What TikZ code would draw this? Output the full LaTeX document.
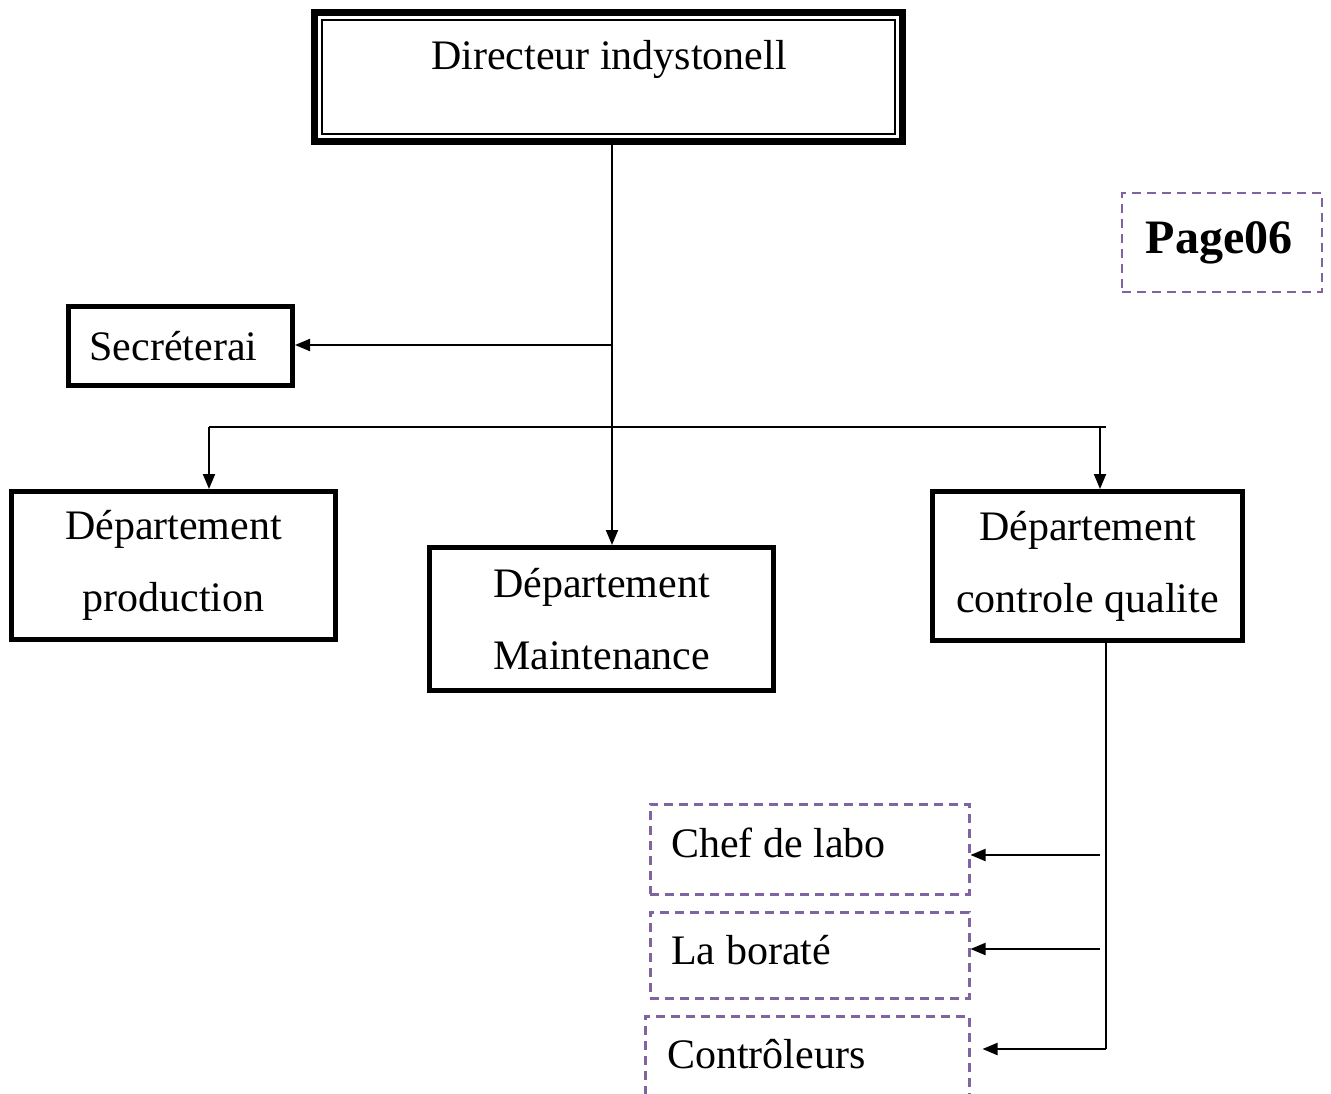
\documentclass[tikz,border=0pt]{standalone}
\usepackage{fontspec}
\setmainfont{Liberation Serif}
\usetikzlibrary{arrows.meta,calc}
\definecolor{dashpurple}{RGB}{128,100,162}
\begin{document}
\begin{tikzpicture}[x=1pt,y=-1pt,
  every node/.style={font=\fontsize{42}{72}\selectfont},
  unitbox/.style={draw, line width=5pt, align=center, inner sep=0pt},
  link/.style={line width=2pt},
  arr/.style={link, -{Triangle[length=15pt,width=12pt]}},
  subbox/.style={draw=dashpurple, line width=2.5pt, dash pattern=on 9pt off 6pt,
                 anchor=north west, inner ysep=0pt, align=flush left},
]
\useasboundingbox (0,0) rectangle (1331,1094);
\clip (0,0) rectangle (1331,1094);

% director: thick frame with a thin inner rule
\node[draw, line width=7pt, minimum width=588pt, minimum height=129pt, inner sep=0pt, outer sep=0pt] (dir) at (608.5,77) {};
\draw[line width=2pt] ($(dir.north west)+(7.5,7.5)$) rectangle ($(dir.south east)+(-7.5,-7.5)$);
\node (dirtext) at (609,59) {Directeur indystonell};

% departments
\node[unitbox, minimum width=224pt, minimum height=79pt] (sec) at (180.5,346) {Secréterai\hspace*{14pt}};
\node[unitbox, minimum width=324pt, minimum height=148pt] (prod) at (173.5,565.5) {Département\\production};
\node[unitbox, minimum width=344pt, minimum height=143pt] (maint) at (601.5,619) {Département\\Maintenance};
\node[unitbox, minimum width=310pt, minimum height=149pt] (qual) at (1087.5,566) {Département\\controle qualite};

% page tag
\node[draw=dashpurple, line width=2.5pt, dash pattern=on 9pt off 6pt, minimum width=200pt, minimum height=99pt,
      font=\bfseries\fontsize{48}{58}\selectfont] (page) at (1222,242.5) {Page06\hspace*{6pt}};

% quality sub-units
\node[subbox, text width=277pt, inner xsep=21pt, text height=53pt, text depth=37pt] (chef) at (649,803) {Chef de labo};
\node[subbox, text width=277pt, inner xsep=21pt, text height=52pt, text depth=34pt] (bor) at (649,911) {La boraté};
\node[subbox, text width=280pt, inner xsep=22pt, text height=52pt, text depth=70pt] (ctl) at (644,1015) {Contrôleurs};

% junction points
\coordinate (trunk) at (612,345);
\coordinate (busL) at (209,427);
\coordinate (busR) at (1106,427);
\coordinate (dropR) at (1100,427);
\coordinate (qbase) at (1106,1049);
\coordinate (tap1) at (1100,855);
\coordinate (tap2) at (1100,949);

% connectors
\draw[arr] (dir.south -| trunk) -- (trunk |- maint.north);
\draw[arr] (trunk) -- (trunk -| sec.east);
\draw[link] (busL) -- (busR);
\draw[arr] (busL) -- (busL |- prod.north);
\draw[arr] (dropR) -- (dropR |- qual.north);
\draw[link] (qual.south -| qbase) -- (qbase);
\draw[arr, shorten >=12pt] (qbase) -- (qbase -| ctl.north east);
\draw[arr] (tap1) -- (tap1 -| chef.east);
\draw[arr] (tap2) -- (tap2 -| bor.east);
\end{tikzpicture}
\end{document}
